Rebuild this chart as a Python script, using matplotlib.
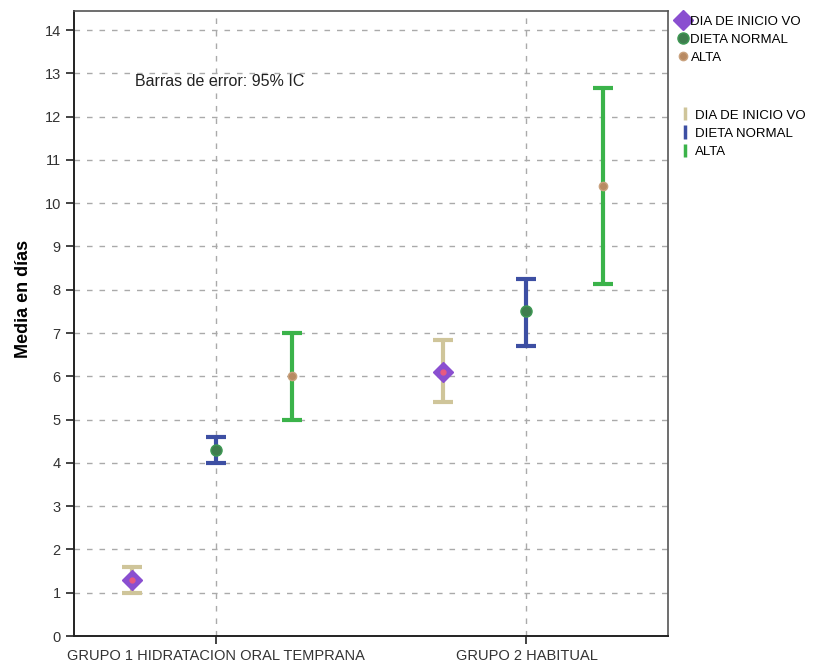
import matplotlib
matplotlib.use('Agg')
import matplotlib.pyplot as plt
from matplotlib.lines import Line2D

plt.rcParams['font.family'] = ['Liberation Sans', 'DejaVu Sans']

## Data ##
groups = ['GRUPO 1 HIDRATACION ORAL TEMPRANA', 'GRUPO 2 HABITUAL']
series = ['DIA DE INICIO VO', 'DIETA NORMAL', 'ALTA']
means = {'DIA DE INICIO VO': [1.3, 6.1],
         'DIETA NORMAL': [4.3, 7.5],
         'ALTA': [6.0, 10.4]}
ci_low = {'DIA DE INICIO VO': [1.0, 5.4],
          'DIETA NORMAL': [4.0, 6.7],
          'ALTA': [5.0, 8.13]}
ci_high = {'DIA DE INICIO VO': [1.6, 6.85],
           'DIETA NORMAL': [4.6, 8.25],
           'ALTA': [7.0, 12.65]}

## Styles ##
offsets = {'DIA DE INICIO VO': -0.27, 'DIETA NORMAL': 0.0, 'ALTA': 0.245}
bar_colors = {'DIA DE INICIO VO': '#cfc59a', 'DIETA NORMAL': '#3d4fa3', 'ALTA': '#3bb34a'}
mk = {'DIA DE INICIO VO': dict(marker='D', ms=10, mfc='#8a4fd0', mec='#8a4fd0'),
      'DIETA NORMAL': dict(marker='o', ms=8, mfc='#3f7d4e', mec='#3f9a55'),
      'ALTA': dict(marker='o', ms=6, mfc='#b88a62', mec='#c9a27e')}

fig = plt.figure(figsize=(8.2, 6.69), dpi=100)
ax = fig.add_axes([74/820, 1 - 636/669, (668-74)/820, (636-11)/669])

for s in series:
    for g in range(2):
        x = g + 1 + offsets[s]
        m = means[s][g]
        lo = m - ci_low[s][g]
        hi = ci_high[s][g] - m
        ax.errorbar(x, m, yerr=[[lo], [hi]], fmt='none', ecolor=bar_colors[s],
                    elinewidth=3, capsize=7, capthick=3, zorder=3)
        ax.plot(x, m, linestyle='none', zorder=4, **mk[s])
        if s == 'DIA DE INICIO VO':
            ax.plot(x, m, linestyle='none', marker='o', ms=3.5, color='#e85a80', zorder=5)

ax.set_xlim(0.545, 2.455)
ax.set_ylim(0, 14.44)
ax.set_xticks([1, 2])
ax.set_xticklabels(groups, fontsize=10)
ax.set_yticks(range(0, 15))
ax.tick_params(axis='both', labelsize=10.5, length=6, width=1.2, color='#222222',
               labelcolor='#333333')
ax.grid(True, linestyle=(0, (4, 5)), color='#aaaaaa', linewidth=1)
ax.set_axisbelow(True)
for side in ['top', 'right']:
    ax.spines[side].set_color('#555555')
    ax.spines[side].set_linewidth(1.2)
for side in ['left', 'bottom']:
    ax.spines[side].set_color('#222222')
    ax.spines[side].set_linewidth(1.4)
ax.set_ylabel('Media en días', fontsize=13, fontweight='bold')
ax.yaxis.set_label_coords(-0.071, 0.54)
ax.text(0.74, 12.8, 'Barras de error: 95% IC', fontsize=11.5, va='center', color='#222222')

## Legends ##
h1 = [Line2D([], [], linestyle='none', **mk[s]) for s in series]
leg1 = fig.legend(h1, series, loc='upper left', bbox_to_anchor=(672/820, 1 - 10/669),
                  frameon=False, fontsize=9.5, handlelength=0.8, handletextpad=0.2,
                  labelspacing=0.45, borderaxespad=0)
eb_handles = []
for s in series:
    eb = ax.errorbar([], [], yerr=[], fmt='none', ecolor=bar_colors[s], elinewidth=2.5,
                     capsize=3, capthick=2)
    eb_handles.append(eb)
leg2 = fig.legend(eb_handles, series, loc='upper left', bbox_to_anchor=(674/820, 1 - 104/669),
                  frameon=False, fontsize=9.5, handlelength=0.8, handletextpad=0.4,
                  labelspacing=0.45, borderaxespad=0)

fig.savefig('out.png', dpi=100)
